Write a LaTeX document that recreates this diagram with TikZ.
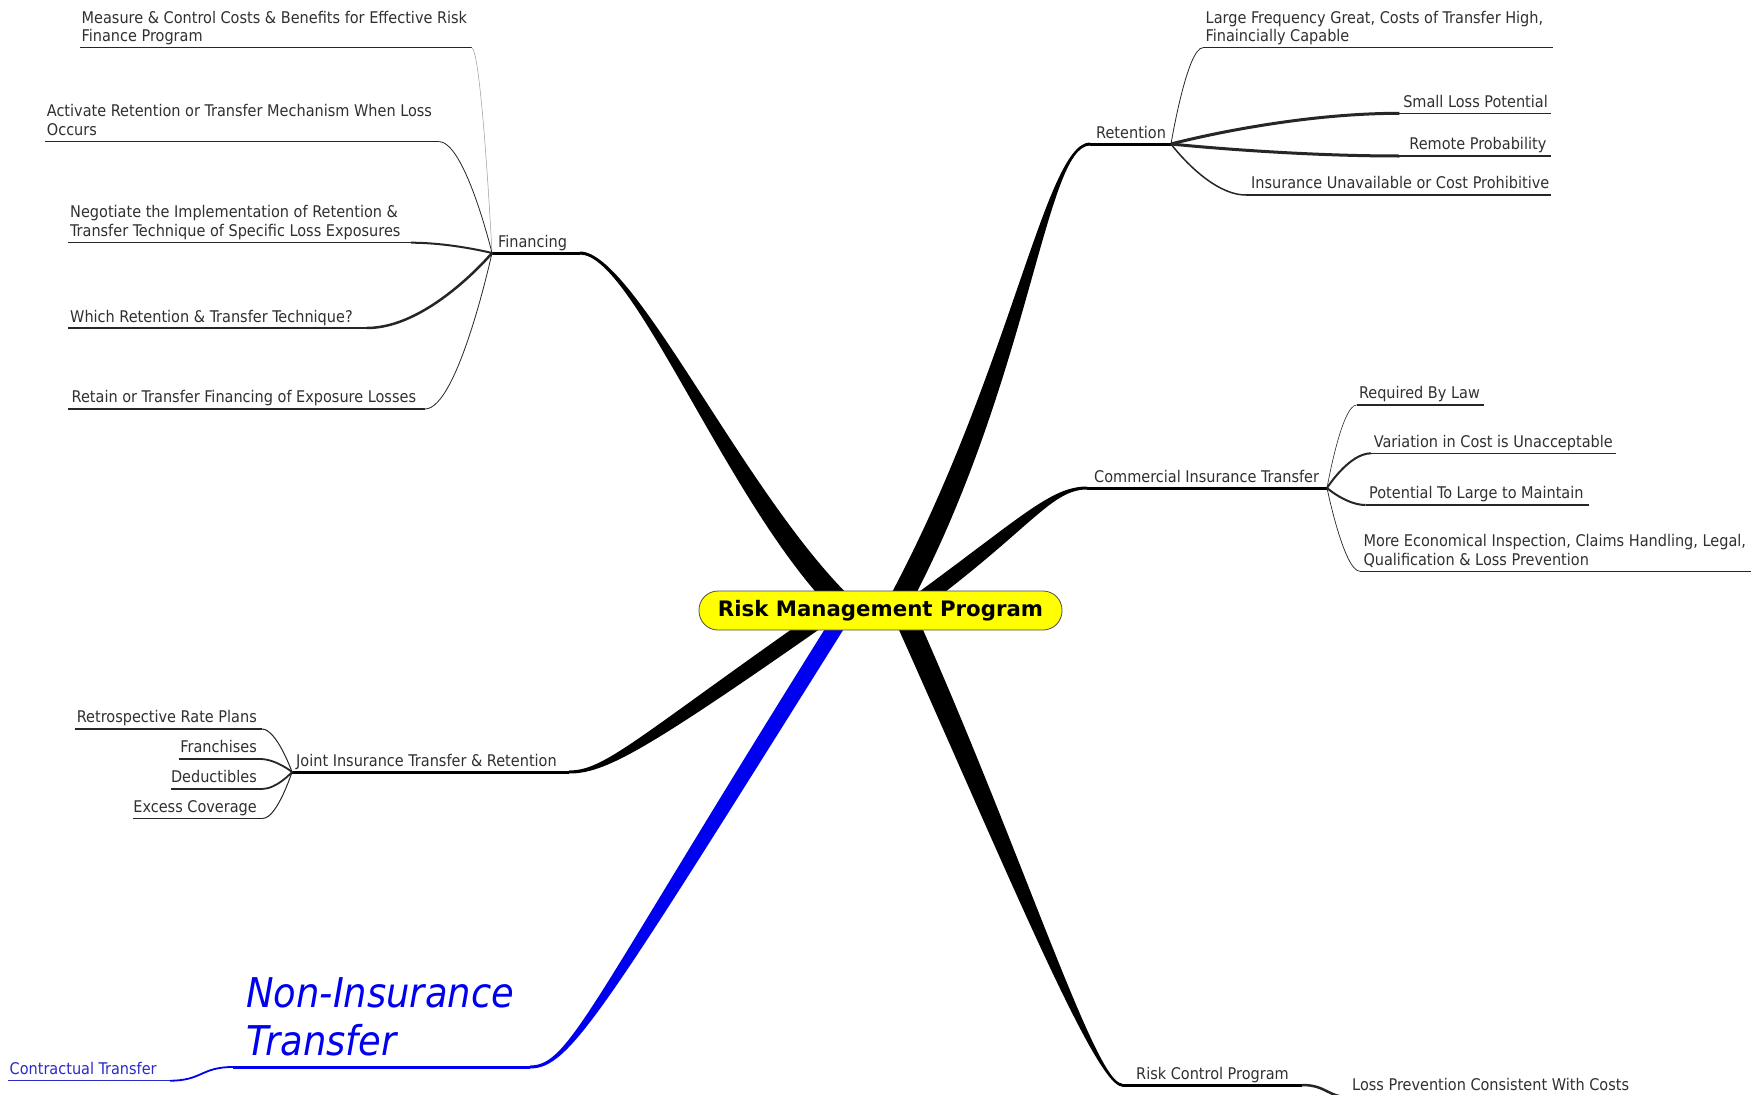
\documentclass[tikz,border=0pt]{standalone}
\usepackage{fontspec}
\setmainfont{DejaVu Sans Condensed}
\newfontfamily\cbold{DejaVu Sans}
\usetikzlibrary{calc}
\definecolor{txt}{HTML}{303030}
\definecolor{mmblue}{HTML}{0000F0}
\definecolor{ctblue}{HTML}{2A2AC8}
\definecolor{mmyellow}{HTML}{FFFF00}
% tapered main branch: #1 end, #2 ctrl1, #3 ctrl2, #4 root, #5 half width at end, #6 half width at root, #7 colour
\newcommand\mmbranch[7]{%
  \fill[#7] ($(#1)!#5!90:(#2)$) .. controls ($(#2)!#5!-90:(#1)$) and ($(#3)!#6!90:(#4)$) .. ($(#4)!#6!-90:(#3)$)
     -- ($(#4)!#6!90:(#3)$) .. controls ($(#3)!#6!-90:(#4)$) and ($(#2)!#5!90:(#1)$) .. ($(#1)!#5!-90:(#2)$) -- cycle;}
\begin{document}
\begin{tikzpicture}[x=1pt,y=-1pt,
  lbl/.style={font=\fontsize{16.1}{18.4}\selectfont, text=txt, inner sep=0pt, text depth=0pt, align=left},
  ul/.style={line width=1.3pt, draw=black!85},
  topicul/.style={line width=3pt, draw=black},
  cn/.style={draw=black!85, line width=#1},
  bigblue/.style={font=\fontsize{41}{47.5}\selectfont\itshape, text=mmblue, inner sep=0pt, text depth=0pt, align=left},
]
\useasboundingbox (0,0) rectangle (1757,1095);
\fill[white] (0,0) rectangle (1757,1095);

% ---------- coordinates of main branches ----------
\coordinate (finHub) at (492,253);  \coordinate (finEnd) at (580,253);
\coordinate (finC1) at (635,253);   \coordinate (finC2) at (740,510);  \coordinate (finRoot) at (850,612);

\coordinate (retHub) at (1171,144); \coordinate (retEnd) at (1090,144);
\coordinate (retC1) at (1045,144);  \coordinate (retC2) at (1020,380); \coordinate (retRoot) at (895,610);

\coordinate (comHub) at (1327,488); \coordinate (comEnd) at (1087,488);
\coordinate (comC1) at (1050,488);  \coordinate (comC2) at (1025,525); \coordinate (comRoot) at (905,612);

\coordinate (joiHub) at (292,772);  \coordinate (joiEnd) at (569,772);
\coordinate (joiC1) at (605,772);   \coordinate (joiC2) at (640,745);  \coordinate (joiRoot) at (830,612);

\coordinate (nonHub) at (233,1067); \coordinate (nonEnd) at (530,1067);
\coordinate (nonC1) at (570,1067);  \coordinate (nonC2) at (595,1010); \coordinate (nonRoot) at (845,612);

\coordinate (rcpHub) at (1302,1085); \coordinate (rcpEnd) at (1122,1085);
\coordinate (rcpC1) at (1095,1085);  \coordinate (rcpC2) at (1010,850); \coordinate (rcpRoot) at (903,612);

% ---------- main branches ----------
\mmbranch{finEnd}{finC1}{finC2}{finRoot}{1.5pt}{11pt}{black}
\mmbranch{retEnd}{retC1}{retC2}{retRoot}{1.5pt}{11pt}{black}
\mmbranch{comEnd}{comC1}{comC2}{comRoot}{1.5pt}{8pt}{black}
\mmbranch{joiEnd}{joiC1}{joiC2}{joiRoot}{1.5pt}{8pt}{black}
\mmbranch{nonEnd}{nonC1}{nonC2}{nonRoot}{1.5pt}{8pt}{mmblue}
\mmbranch{rcpEnd}{rcpC1}{rcpC2}{rcpRoot}{1.5pt}{11pt}{black}

\draw[topicul] (finHub) -- (finEnd);
\draw[topicul] (retEnd) -- (retHub);
\draw[topicul] (comEnd) -- (comHub);
\draw[topicul] (joiHub) -- (joiEnd);
\draw[topicul, draw=mmblue] (nonHub) -- (nonEnd);
\draw[topicul] (rcpEnd) -- (rcpHub);

\node[lbl, anchor=south west] (finLbl) at (498,248) {Financing};
\node[lbl, anchor=south west] (retLbl) at (1096,138.5) {Retention};
\node[lbl, anchor=south west] (comLbl) at (1094,482.5) {Commercial Insurance Transfer};
\node[lbl, anchor=south west] (joiLbl) at (296,766.5) {Joint Insurance Transfer \& Retention};
\node[bigblue, anchor=south west] (nonLbl) at (246,1055.5) {Non-Insurance\\Transfer};
\node[lbl, anchor=south west] (rcpLbl) at (1136,1079.5) {Risk Control Program};

% ---------- Financing children ----------
\coordinate (meaA) at (79.6,47.7);  \coordinate (meaB) at (471.5,47.7);
\draw[ul] (meaA) -- (meaB);
\node[lbl, anchor=south west] (mea) at (81.5,42) {Measure \& Control Costs \& Benefits for Effective Risk\\Finance Program};
\draw[cn=0.5pt, draw=black!40] (meaB) .. controls ($(meaB)+(10,0)$) and (finHub) .. (finHub);

\coordinate (actA) at (45,141.7);  \coordinate (actB) at (439,141.7);
\draw[ul] (actA) -- (actB);
\node[lbl, anchor=south west] (act) at (46.7,135.5) {Activate Retention or Transfer Mechanism When Loss\\Occurs};
\draw[cn=0.8pt] (actB) .. controls ($(actB)+(26,0)$) and (finHub) .. (finHub);

\coordinate (negA) at (68,242.7);  \coordinate (negB) at (411,242.7);
\draw[ul] (negA) -- (negB);
\node[lbl, anchor=south west] (neg) at (70,236.5) {Negotiate the Implementation of Retention \&\\Transfer Technique of Specific Loss Exposures};
\draw[cn=2pt] (negB) .. controls ($(negB)+(40,0)$) and (finHub) .. (finHub);

\coordinate (whiA) at (68,328);  \coordinate (whiB) at (367,328);
\draw[ul] (whiA) -- (whiB);
\node[lbl, anchor=south west] (whi) at (70,322.5) {Which Retention \& Transfer Technique?};
\draw[cn=2.5pt] (whiB) .. controls ($(whiB)+(62,0)$) and (finHub) .. (finHub);

\coordinate (rtnA) at (68,409);  \coordinate (rtnB) at (425,409);
\draw[ul] (rtnA) -- (rtnB);
\node[lbl, anchor=south west] (rtn) at (71.5,403) {Retain or Transfer Financing of Exposure Losses};
\draw[cn=0.8pt] (rtnB) .. controls ($(rtnB)+(33,0)$) and (finHub) .. (finHub);

% ---------- Retention children ----------
\coordinate (lfgA) at (1203,47.7);  \coordinate (lfgB) at (1552.7,47.7);
\draw[ul] (lfgA) -- (lfgB);
\node[lbl, anchor=south west] (lfg) at (1205.5,41.7) {Large Frequency Great, Costs of Transfer High,\\Finaincially Capable};
\draw[cn=0.8pt] (lfgA) .. controls ($(lfgA)+(-16,0)$) and (retHub) .. (retHub);

\coordinate (slpA) at (1399.4,113.3);  \coordinate (slpB) at (1550.5,113.3);
\draw[ul] (slpA) -- (slpB);
\node[lbl, anchor=south east] (slp) at (1548,107.3) {Small Loss Potential};
\draw[cn=3pt] (slpA) .. controls ($(slpA)+(-114,0)$) and (retHub) .. (retHub);

\coordinate (rmpA) at (1399.4,156);  \coordinate (rmpB) at (1550.5,156);
\draw[ul] (rmpA) -- (rmpB);
\node[lbl, anchor=south east] (rmp) at (1546.5,150) {Remote Probability};
\draw[cn=3pt] (rmpA) .. controls ($(rmpA)+(-114,0)$) and (retHub) .. (retHub);

\coordinate (iucA) at (1246,195);  \coordinate (iucB) at (1550.5,195);
\draw[ul] (iucA) -- (iucB);
\node[lbl, anchor=south east] (iuc) at (1549.5,189) {Insurance Unavailable or Cost Prohibitive};
\draw[cn=1.5pt] (iucA) .. controls ($(iucA)+(-37,0)$) and (retHub) .. (retHub);

% ---------- Commercial children ----------
\coordinate (rblA) at (1356.6,405);  \coordinate (rblB) at (1483.7,405);
\draw[ul] (rblA) -- (rblB);
\node[lbl, anchor=south west] (rbl) at (1358.8,399) {Required By Law};
\draw[cn=0.6pt] (rblA) .. controls ($(rblA)+(-15,0)$) and (comHub) .. (comHub);

\coordinate (vcuA) at (1371,453.3);  \coordinate (vcuB) at (1615.8,453.3);
\draw[ul] (vcuA) -- (vcuB);
\node[lbl, anchor=south west] (vcu) at (1373.7,447.3) {Variation in Cost is Unacceptable};
\draw[cn=2pt] (vcuA) .. controls ($(vcuA)+(-22,0)$) and (comHub) .. (comHub);

\coordinate (ptlA) at (1365.6,505);  \coordinate (ptlB) at (1588.8,505);
\draw[ul] (ptlA) -- (ptlB);
\node[lbl, anchor=south west] (ptl) at (1369,499) {Potential To Large to Maintain};
\draw[cn=2pt] (ptlA) .. controls ($(ptlA)+(-19,0)$) and (comHub) .. (comHub);

\coordinate (meiA) at (1360,571.3);  \coordinate (meiB) at (1751,571.3);
\draw[ul] (meiA) -- (meiB);
\node[lbl, anchor=south west] (mei) at (1363.3,565.3) {More Economical Inspection, Claims Handling, Legal,\\Qualification \& Loss Prevention};
\draw[cn=0.7pt] (meiA) .. controls ($(meiA)+(-16,0)$) and (comHub) .. (comHub);

% ---------- Joint children ----------
\coordinate (rrpA) at (75,729);  \coordinate (rrpB) at (261.8,729);
\draw[ul] (rrpA) -- (rrpB);
\node[lbl, anchor=south east] (rrp) at (257,723) {Retrospective Rate Plans};
\draw[cn=1pt] (rrpB) .. controls ($(rrpB)+(15,0)$) and (joiHub) .. (joiHub);

\coordinate (fraA) at (178.7,759);  \coordinate (fraB) at (260,759);
\draw[ul] (fraA) -- (fraB);
\node[lbl, anchor=south east] (fra) at (257,753) {Franchises};
\draw[cn=1.8pt] (fraB) .. controls ($(fraB)+(16,0)$) and (joiHub) .. (joiHub);

\coordinate (dedA) at (170.8,789);  \coordinate (dedB) at (261.8,789);
\draw[ul] (dedA) -- (dedB);
\node[lbl, anchor=south east] (ded) at (257,783) {Deductibles};
\draw[cn=1.8pt] (dedB) .. controls ($(dedB)+(15,0)$) and (joiHub) .. (joiHub);

\coordinate (excA) at (132.9,818.3);  \coordinate (excB) at (263,818.3);
\draw[ul] (excA) -- (excB);
\node[lbl, anchor=south east] (exc) at (257,812.3) {Excess Coverage};
\draw[cn=1pt] (excB) .. controls ($(excB)+(14,0)$) and (joiHub) .. (joiHub);

% ---------- Non-Insurance child ----------
\coordinate (ctrA) at (8,1080.7);  \coordinate (ctrB) at (170,1080.7);
\draw[line width=1pt, draw=ctblue] (ctrA) -- (ctrB);
\node[lbl, text=ctblue, anchor=south west] (ctr) at (9.5,1074.5) {Contractual Transfer};
\draw[line width=1.8pt, draw=mmblue] (ctrB) .. controls ($(ctrB)+(32,0)$) and ($(nonHub)+(-32,0)$) .. (nonHub);

% ---------- Risk Control child ----------
\coordinate (lpcA) at (1352,1097.5);  \coordinate (lpcB) at (1660,1097.5);
\draw[ul] (lpcA) -- (lpcB);
\node[lbl, anchor=south west] (lpc) at (1352,1090.5) {Loss Prevention Consistent With Costs};
\draw[cn=2.5pt] (rcpHub) .. controls ($(rcpHub)+(25,0)$) and ($(lpcA)+(-25,0)$) .. (lpcA);

% ---------- central topic ----------
\node[draw=black!70, line width=0.8pt, fill=mmyellow, rounded corners=19pt,
      minimum width=363pt, minimum height=39pt, inner sep=0pt,
      font=\cbold\bfseries\fontsize{21.3}{24}\selectfont] (center) at (880.5,610.5) {Risk Management Program};
\end{tikzpicture}
\end{document}
